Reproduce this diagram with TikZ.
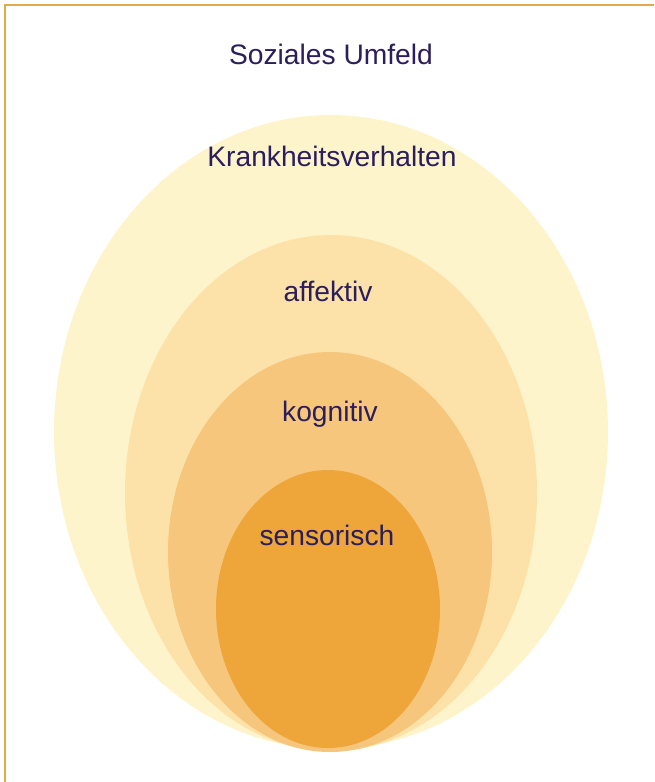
\documentclass[tikz,border=0pt]{standalone}
\usepackage{fontspec}
\setmainfont{Liberation Sans}
\usetikzlibrary{shapes.geometric}

\definecolor{frameline}{HTML}{E2AA48}
\definecolor{umfeldcol}{HTML}{FEF4CC}
\definecolor{affektcol}{HTML}{FCE2A8}
\definecolor{kognitcol}{HTML}{F6C67C}
\definecolor{sensorcol}{HTML}{EEA63A}
\definecolor{labelcol}{HTML}{2A1E5C}

\begin{document}
\begin{tikzpicture}[x=1pt,y=-1pt]
  \tikzstyle{every label node}=[text=labelcol,font=\fontsize{28.2}{31}\selectfont,anchor=base]
  \tikzstyle{layer}=[ellipse,draw=none,inner sep=0pt]

  \useasboundingbox (0,0) rectangle (654,782);

  % frame, top and left side only
  \coordinate (tl) at (5,5);
  \coordinate (tr) at (654,5);
  \coordinate (bl) at (5,782);
  \draw[frameline,line width=2.4pt] (tr) -- (tl) -- (bl);

  % nested layers, all resting on the same bottom
  \node[layer,fill=umfeldcol,minimum width=554pt,minimum height=634pt] (verhalten) at (331,432) {};
  \node[layer,fill=affektcol,minimum width=412pt,minimum height=516pt] (affektiv)  at (331,493) {};
  \node[layer,fill=kognitcol,minimum width=324pt,minimum height=400pt] (kognitiv)  at (330,552) {};
  \node[layer,fill=sensorcol,minimum width=224pt,minimum height=278pt] (sensorisch) at (328,609) {};

  \node[every label node] (tumfeld)    at (331,64)  {Soziales Umfeld};
  \node[every label node] (tverhalten) at (332,166) {Krankheitsverhalten};
  \node[every label node] (taffektiv)  at (328,301) {affektiv};
  \node[every label node] (tkognitiv)  at (330,421) {kognitiv};
  \node[every label node] (tsensor)    at (327,545) {sensorisch};

\end{tikzpicture}
\end{document}
